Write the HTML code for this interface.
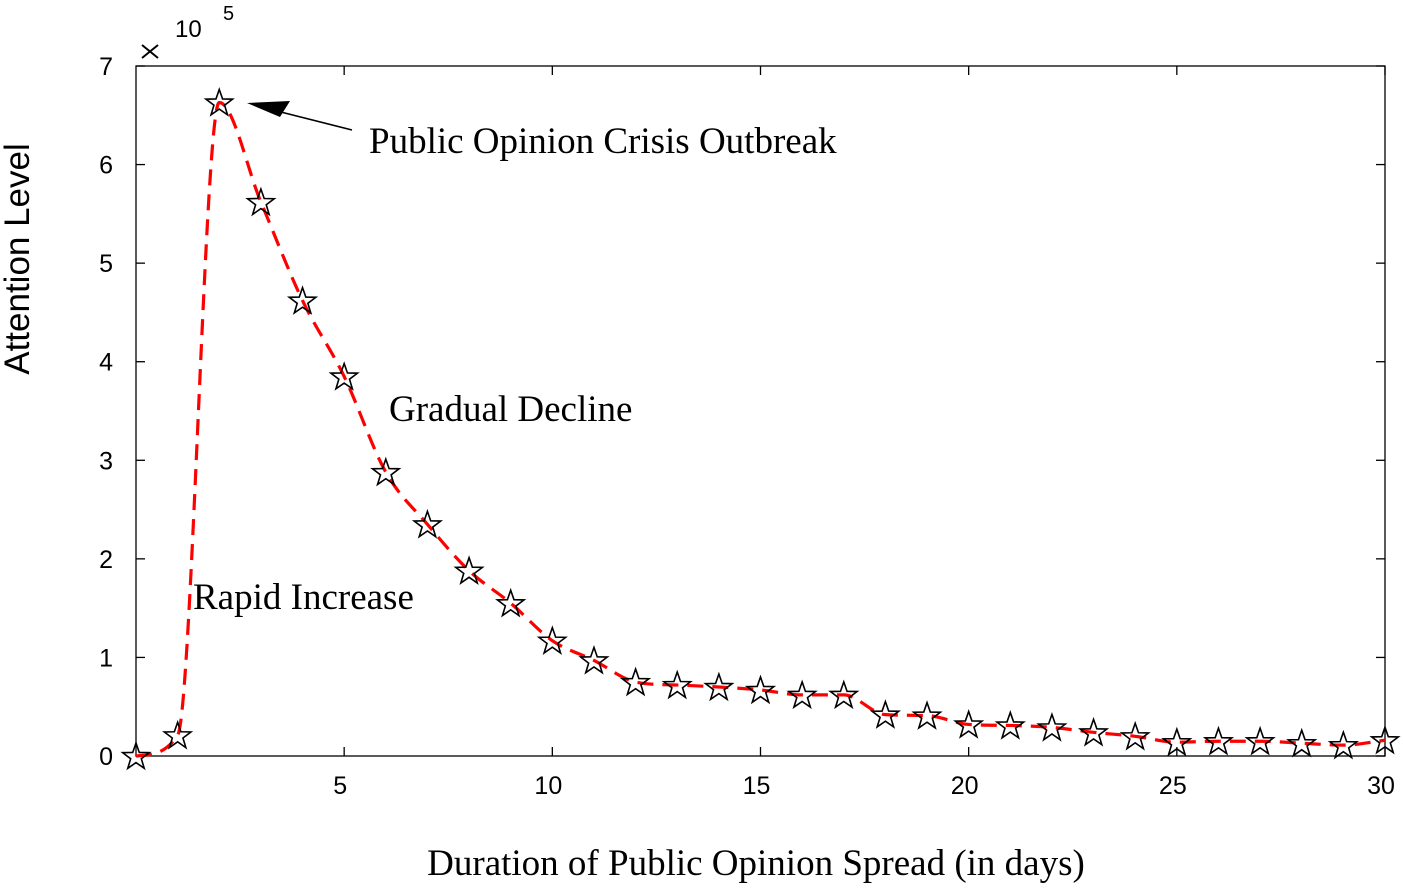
<!DOCTYPE html>
<html><head><meta charset="utf-8"><style>
body{margin:0;background:#fff;}
svg text{font-family:"Liberation Sans",sans-serif;}
svg text.serif{font-family:"Liberation Serif",serif;}
</style></head><body>
<svg id="chart" width="1403" height="884" xmlns="http://www.w3.org/2000/svg">
<g id="axes"></g>
<g id="series"></g>
<g id="static">
<g stroke="#000" stroke-width="2">
<line x1="142" y1="45" x2="158" y2="58"/><line x1="158" y1="45" x2="142" y2="58"/>
</g>
<text x="175" y="37" font-size="24">10</text>
<text x="223" y="20" font-size="20">5</text>
<text transform="translate(29,259) rotate(-90)" font-size="35" text-anchor="middle">Attention Level</text>
<text class="serif" x="756" y="875" font-size="37" text-anchor="middle">Duration of Public Opinion Spread (in days)</text>
<text class="serif" x="369" y="153" font-size="37">Public Opinion Crisis Outbreak</text>
<text class="serif" x="389" y="421" font-size="37">Gradual Decline</text>
<text class="serif" x="193" y="609" font-size="37">Rapid Increase</text>
<g>
<line x1="352" y1="130" x2="265" y2="108" stroke="#000" stroke-width="1.6"/>
<polygon points="247,103 290,101 280,117" fill="#000"/>
</g>
</g>
</svg>
<script>
const days = [];
for (let i = 0; i <= 30; i++) days.push(i);
const attention = [0, 0.21, 6.63, 5.62, 4.62, 3.85, 2.88, 2.35, 1.88, 1.55, 1.17, 0.97, 0.75, 0.72, 0.70, 0.67, 0.62, 0.62, 0.42, 0.41, 0.32, 0.31, 0.29, 0.24, 0.20, 0.14, 0.15, 0.15, 0.13, 0.11, 0.16];
const xTicks = [5, 10, 15, 20, 25, 30];
const yTicks = [0, 1, 2, 3, 4, 5, 6, 7];

const L = 136, R = 1385, T = 66, B = 756;
const xMax = 30, yMax = 7;
const sx = v => L + (v / xMax) * (R - L);
const sy = v => B - (v / yMax) * (B - T);
const NS = 'http://www.w3.org/2000/svg';
function mk(tag, attrs, parent) {
  const e = document.createElementNS(NS, tag);
  for (const k in attrs) e.setAttribute(k, attrs[k]);
  parent.appendChild(e);
  return e;
}
const axes = document.getElementById('axes');
const series = document.getElementById('series');

const frame = mk('rect', {x: L, y: T, width: R - L, height: B - T, fill: 'none', stroke: '#000', 'stroke-width': 1.3}, axes);



xTicks.forEach(v => {
  const x = sx(v);
  const t1 = mk('line', {x1: x, x2: x, y1: B, y2: B - 9, stroke: '#000', 'stroke-width': 1.3}, axes);
  
  
  mk('line', {x1: x, x2: x, y1: T, y2: T + 9, stroke: '#000', 'stroke-width': 1.3}, axes);
  const lb = mk('text', {x: x - 4, y: 794, 'font-size': 25, 'text-anchor': 'middle'}, axes);
  lb.textContent = v;
  
  
});
yTicks.forEach(v => {
  const y = sy(v);
  const t1 = mk('line', {x1: L, x2: L + 9, y1: y, y2: y, stroke: '#000', 'stroke-width': 1.3}, axes);
  
  
  mk('line', {x1: R, x2: R - 9, y1: y, y2: y, stroke: '#000', 'stroke-width': 1.3}, axes);
  const lb = mk('text', {x: 113, y: y + 9, 'font-size': 25, 'text-anchor': 'end'}, axes);
  lb.textContent = v;
  
  
});

// monotone cubic (Fritsch-Carlson)
const pts = days.map((d, i) => [sx(d), sy(attention[i])]);
const n = pts.length;
const dx = [], m = [];
for (let i = 0; i < n - 1; i++) { dx.push(pts[i+1][0] - pts[i][0]); m.push((pts[i+1][1] - pts[i][1]) / dx[i]); }
const tg = [m[0]];
for (let i = 1; i < n - 1; i++) tg.push(m[i-1] * m[i] <= 0 ? 0 : (m[i-1] + m[i]) / 2);
tg.push(m[n-2]);
for (let i = 0; i < n - 1; i++) {
  if (m[i] === 0) { tg[i] = 0; tg[i+1] = 0; continue; }
  const a = tg[i] / m[i], b = tg[i+1] / m[i], s = a*a + b*b;
  if (s > 9) { const t = 3 / Math.sqrt(s); tg[i] = t*a*m[i]; tg[i+1] = t*b*m[i]; }
}
let dstr = `M${pts[0][0]},${pts[0][1]}`;
for (let i = 0; i < n - 1; i++) {
  const h = dx[i] / 3;
  dstr += ` C${pts[i][0]+h},${pts[i][1]+tg[i]*h} ${pts[i+1][0]-h},${pts[i+1][1]-tg[i+1]*h} ${pts[i+1][0]},${pts[i+1][1]}`;
}
const line = mk('path', {d: dstr, fill: 'none', stroke: '#ff0000', 'stroke-width': 3.2, 'stroke-dasharray': '16 9'}, series);



function star(cx, cy, r) {
  let s = '';
  for (let k = 0; k < 10; k++) {
    const a = -Math.PI / 2 + k * Math.PI / 5;
    const rr = k % 2 ? r * 0.4 : r;
    s += (cx + rr * Math.cos(a)) + ',' + (cy + rr * Math.sin(a)) + ' ';
  }
  return s;
}
pts.forEach(p => {
  const st = mk('polygon', {points: star(p[0], p[1] + 1, 14), fill: 'none', stroke: '#000', 'stroke-width': 1.6}, series);
  
  
});
</script>
</body></html>
